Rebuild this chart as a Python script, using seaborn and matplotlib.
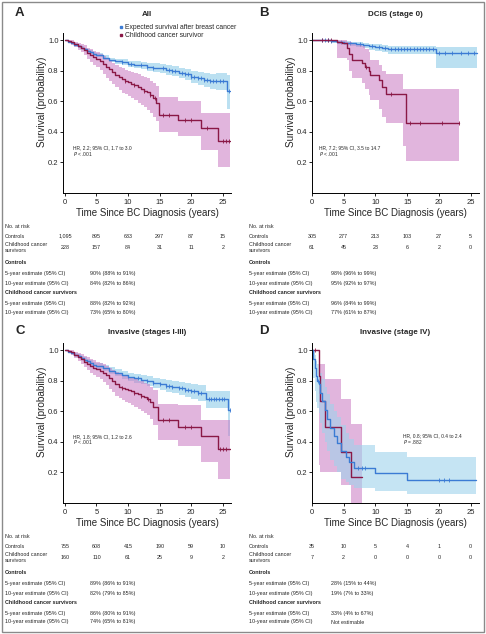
import numpy as np
import pandas as pd
import matplotlib
matplotlib.use("Agg")
import matplotlib.pyplot as plt
import matplotlib.transforms as mtransforms
from matplotlib.lines import Line2D
from matplotlib.patches import Rectangle
import seaborn as sns

sns.set_theme(style="white")
FONT = ["Liberation Sans", "DejaVu Sans"]
plt.rcParams["font.family"] = FONT

# ---------------- data ----------------
xticks = [0, 5, 10, 15, 20, 25]
yticks = [0.2, 0.4, 0.6, 0.8, 1.0]

# Panel A: All
A_ctl_t = [0, 0.5, 1, 1.5, 2, 2.5, 3, 3.5, 4, 4.5, 5, 6, 7, 8, 9, 10, 11, 12, 13, 14, 15, 16, 17, 18, 19, 20, 21, 22, 23, 24, 25.6]
A_ctl_s = [1.0, 0.99, 0.98, 0.97, 0.96, 0.95, 0.94, 0.93, 0.92, 0.91, 0.90, 0.885, 0.87, 0.86, 0.855, 0.845, 0.84, 0.835, 0.825, 0.82, 0.815, 0.805, 0.795, 0.785, 0.775, 0.76, 0.75, 0.74, 0.73, 0.73, 0.668]
A_ctl_lo = [1.0, 0.985, 0.972, 0.96, 0.95, 0.94, 0.93, 0.918, 0.908, 0.897, 0.886, 0.87, 0.855, 0.843, 0.836, 0.825, 0.818, 0.812, 0.80, 0.793, 0.786, 0.774, 0.762, 0.75, 0.738, 0.72, 0.705, 0.692, 0.68, 0.675, 0.55]
A_ctl_hi = [1.0, 0.995, 0.988, 0.98, 0.97, 0.96, 0.95, 0.942, 0.932, 0.923, 0.914, 0.90, 0.885, 0.877, 0.873, 0.865, 0.862, 0.858, 0.85, 0.847, 0.844, 0.836, 0.828, 0.82, 0.812, 0.80, 0.793, 0.787, 0.78, 0.782, 0.77]
A_ctl_end = 26.2
A_ctl_cens = [9, 10.5, 12, 13, 14, 15.5, 16.5, 17, 17.5, 18.5, 19, 19.5, 20, 20.5, 21, 21.5, 22, 22.5, 23, 23.5, 24, 24.5, 25, 26]

A_ccs_t = [0, 0.5, 1, 1.5, 2, 2.5, 3, 3.5, 4, 4.5, 5, 5.5, 6, 6.5, 7, 7.5, 8, 8.5, 9, 9.5, 10, 10.5, 11, 11.5, 12, 12.5, 13, 13.5, 14, 14.5, 14.9, 17.9, 21.6, 24.2]
A_ccs_s = [1.0, 0.995, 0.985, 0.975, 0.96, 0.95, 0.935, 0.915, 0.90, 0.89, 0.876, 0.86, 0.845, 0.826, 0.81, 0.79, 0.77, 0.76, 0.745, 0.735, 0.727, 0.715, 0.705, 0.69, 0.68, 0.67, 0.66, 0.64, 0.62, 0.59, 0.51, 0.48, 0.427, 0.34]
A_ccs_lo = [1.0, 0.985, 0.97, 0.955, 0.935, 0.92, 0.90, 0.875, 0.855, 0.84, 0.825, 0.805, 0.78, 0.755, 0.735, 0.71, 0.69, 0.675, 0.655, 0.645, 0.635, 0.62, 0.605, 0.59, 0.575, 0.56, 0.545, 0.52, 0.50, 0.47, 0.40, 0.37, 0.28, 0.17]
A_ccs_hi = [1.0, 1.0, 0.997, 0.99, 0.98, 0.975, 0.965, 0.95, 0.94, 0.93, 0.92, 0.91, 0.895, 0.88, 0.865, 0.85, 0.835, 0.825, 0.815, 0.805, 0.80, 0.79, 0.785, 0.775, 0.765, 0.76, 0.75, 0.735, 0.72, 0.70, 0.625, 0.60, 0.52, 0.52]
A_ccs_end = 26.2
A_ccs_cens = [9.5, 11, 12.5, 13.5, 14.2, 15.5, 16.5, 19, 20, 22.5, 25, 25.5, 26]

# Panel B: DCIS
B_ctl_t = [0, 1, 2, 3, 4, 5, 6, 7, 8, 9, 10, 11, 12, 19.5]
B_ctl_s = [1.0, 1.0, 0.997, 0.993, 0.988, 0.983, 0.978, 0.972, 0.966, 0.96, 0.955, 0.948, 0.94, 0.913]
B_ctl_lo = [1.0, 0.995, 0.99, 0.983, 0.977, 0.97, 0.963, 0.955, 0.946, 0.938, 0.93, 0.92, 0.91, 0.82]
B_ctl_hi = [1.0, 1.0, 1.0, 0.998, 0.995, 0.992, 0.988, 0.984, 0.98, 0.976, 0.972, 0.967, 0.962, 0.955]
B_ctl_end = 26.0
B_ctl_cens = [1.5, 2, 2.5, 3, 4.5, 6, 7.5, 9.5, 10.5, 11.5, 12.5, 13, 13.5, 14, 14.5, 15, 15.5, 16, 16.5, 17, 17.5, 18, 18.5, 19, 20, 21, 22, 23.5, 24.5, 25.5]

B_ccs_t = [0, 3.9, 4.7, 5.5, 5.8, 6.3, 7.9, 8.4, 8.9, 9.2, 10.5, 11.0, 11.6, 14.3, 14.8]
B_ccs_s = [1.0, 0.99, 0.98, 0.945, 0.91, 0.87, 0.85, 0.826, 0.80, 0.77, 0.74, 0.69, 0.645, 0.645, 0.46]
B_ccs_lo = [1.0, 0.88, 0.88, 0.87, 0.80, 0.75, 0.72, 0.68, 0.64, 0.61, 0.55, 0.50, 0.455, 0.31, 0.21]
B_ccs_hi = [1.0, 1.0, 1.0, 0.99, 0.985, 0.975, 0.96, 0.94, 0.92, 0.87, 0.84, 0.80, 0.78, 0.68, 0.68]
B_ccs_end = 23.2
B_ccs_cens = [1.5, 2.5, 3.0, 8.5, 12.5, 15.5, 17, 20.5, 23.2]

# Panel C: Invasive I-III
C_ctl_t = [0, 0.5, 1, 1.5, 2, 2.5, 3, 3.5, 4, 4.5, 5, 6, 7, 8, 9, 10, 11, 12, 13, 14, 15, 16, 17, 18, 19, 20, 21, 22.4, 25.8]
C_ctl_s = [1.0, 0.99, 0.98, 0.97, 0.96, 0.948, 0.937, 0.926, 0.915, 0.905, 0.895, 0.88, 0.865, 0.85, 0.838, 0.826, 0.815, 0.805, 0.795, 0.785, 0.775, 0.765, 0.757, 0.75, 0.74, 0.73, 0.72, 0.68, 0.607]
C_ctl_lo = [1.0, 0.984, 0.972, 0.96, 0.948, 0.935, 0.922, 0.91, 0.898, 0.887, 0.876, 0.86, 0.843, 0.827, 0.813, 0.80, 0.787, 0.775, 0.763, 0.752, 0.74, 0.728, 0.718, 0.708, 0.695, 0.682, 0.668, 0.62, 0.44]
C_ctl_hi = [1.0, 0.996, 0.988, 0.98, 0.972, 0.961, 0.952, 0.942, 0.932, 0.923, 0.914, 0.90, 0.887, 0.873, 0.863, 0.852, 0.843, 0.835, 0.827, 0.818, 0.81, 0.802, 0.796, 0.792, 0.785, 0.778, 0.772, 0.735, 0.735]
C_ctl_end = 26.2
C_ctl_cens = [10, 11.5, 13, 14, 15, 16, 16.5, 17, 18, 18.5, 19, 19.5, 20, 20.5, 21, 21.5, 22.8, 23.2, 23.6, 24, 24.4, 24.8, 25.2, 26.2]

C_ccs_t = [0, 0.5, 1, 1.5, 2, 2.5, 3, 3.5, 4, 4.5, 5, 5.5, 6, 6.5, 7, 7.5, 8, 8.5, 9, 9.5, 10, 10.5, 11, 11.5, 12, 12.5, 13, 13.5, 14, 14.7, 17.9, 21.6, 24.2]
C_ccs_s = [1.0, 0.995, 0.985, 0.97, 0.955, 0.94, 0.925, 0.91, 0.895, 0.885, 0.875, 0.865, 0.85, 0.835, 0.816, 0.80, 0.78, 0.76, 0.752, 0.746, 0.74, 0.73, 0.72, 0.71, 0.70, 0.69, 0.68, 0.66, 0.625, 0.54, 0.50, 0.44, 0.35]
C_ccs_lo = [1.0, 0.985, 0.97, 0.95, 0.93, 0.91, 0.89, 0.87, 0.85, 0.84, 0.825, 0.81, 0.79, 0.77, 0.745, 0.725, 0.70, 0.685, 0.672, 0.663, 0.655, 0.64, 0.63, 0.615, 0.60, 0.59, 0.575, 0.55, 0.51, 0.41, 0.37, 0.27, 0.16]
C_ccs_hi = [1.0, 1.0, 0.997, 0.99, 0.982, 0.972, 0.962, 0.952, 0.94, 0.932, 0.925, 0.918, 0.91, 0.898, 0.885, 0.872, 0.857, 0.845, 0.838, 0.832, 0.825, 0.818, 0.81, 0.80, 0.795, 0.785, 0.775, 0.76, 0.74, 0.65, 0.64, 0.545, 0.545]
C_ccs_end = 26.2
C_ccs_cens = [9, 11, 12, 13.2, 15.5, 16.5, 19, 20, 24.5, 25, 25.5]

# Panel D: Invasive IV
D_ctl_t = [0, 0.2, 0.4, 0.6, 0.8, 1.05, 1.3, 1.6, 2.0, 2.4, 2.9, 3.4, 3.9, 4.5, 5.3, 5.9, 6.6, 10, 15]
D_ctl_s = [1.0, 0.94, 0.885, 0.83, 0.80, 0.776, 0.72, 0.667, 0.61, 0.55, 0.49, 0.44, 0.395, 0.34, 0.30, 0.265, 0.23, 0.196, 0.152]
D_ctl_lo = [1.0, 0.82, 0.73, 0.66, 0.62, 0.59, 0.52, 0.46, 0.40, 0.34, 0.28, 0.24, 0.20, 0.16, 0.14, 0.12, 0.10, 0.08, 0.06]
D_ctl_hi = [1.0, 1.0, 0.97, 0.93, 0.91, 0.89, 0.85, 0.81, 0.76, 0.71, 0.65, 0.60, 0.56, 0.51, 0.46, 0.42, 0.38, 0.335, 0.30]
D_ctl_end = 25.8
D_ctl_cens = [1.0, 7.2, 7.8, 8.4, 20, 20.8, 21.6]

D_ccs_t = [0, 1.15, 1.3, 2.1, 4.6, 6.2]
D_ccs_s = [1.0, 0.833, 0.667, 0.5, 0.333, 0.167]
D_ccs_lo = [1.0, 0.25, 0.2, 0.2, 0.12, 0.0]
D_ccs_hi = [1.0, 0.91, 0.91, 0.81, 0.68, 0.515]
D_ccs_end = 7.9
D_ccs_cens = [0.5]

# risk tables
A_risk_ctl = ["1,095", "895", "633", "297", "87", "15"]
A_risk_ccs = ["228", "157", "84", "31", "11", "2"]
B_risk_ctl = ["305", "277", "213", "103", "27", "5"]
B_risk_ccs = ["61", "45", "23", "6", "2", "0"]
C_risk_ctl = ["755", "608", "415", "190", "59", "10"]
C_risk_ccs = ["160", "110", "61", "25", "9", "2"]
D_risk_ctl = ["35", "10", "5", "4", "1", "0"]
D_risk_ccs = ["7", "2", "0", "0", "0", "0"]

A_est = ["90% (88% to 91%)", "84% (82% to 86%)", "88% (82% to 92%)", "73% (65% to 80%)"]
B_est = ["98% (96% to 99%)", "95% (92% to 97%)", "96% (84% to 99%)", "77% (61% to 87%)"]
C_est = ["89% (86% to 91%)", "82% (79% to 85%)", "86% (80% to 91%)", "74% (65% to 81%)"]
D_est = ["28% (15% to 44%)", "19% (7% to 33%)", "33% (4% to 67%)", "Not estimable"]

titles = ["All", "DCIS (stage 0)", "Invasive (stages I-III)", "Invasive (stage IV)"]
letters = ["A", "B", "C", "D"]
hr_l1 = ["HR, 2.2; 95% CI, 1.7 to 3.0", "HR, 7.2; 95% CI, 3.5 to 14.7",
         "HR, 1.8; 95% CI, 1.2 to 2.6", "HR, 0.8; 95% CI, 0.4 to 2.4"]
hr_l2 = ["< .001", "< .001", "< .001", "= .882"]
legend_labels = ["Expected survival after breast cancer", "Childhood cancer survivor"]

# ---------------- style ----------------
BLUE = "#3b7bd4"
BLUE_F = "#9fd3ec"
MAG = "#8a1846"
MAG_F = "#c978c2"

W, H = 486, 634
fig = plt.figure(figsize=(W / 100, H / 100), dpi=100)


def fx(x):
    return x / W


def fy(y):
    return 1 - y / H


def km(ax, t, s, lo, hi, end, cens, color, fcolor, falpha):
    tt = np.array(list(t) + [end])
    ss = np.array(list(s) + [s[-1]])
    ll = np.array(list(lo) + [lo[-1]])
    uu = np.array(list(hi) + [hi[-1]])
    ax.fill_between(tt, ll, uu, step="post", color=fcolor, alpha=falpha, lw=0)
    df = pd.DataFrame({"t": tt, "s": ss})
    sns.lineplot(data=df, x="t", y="s", ax=ax, drawstyle="steps-post",
                 estimator=None, color=color, lw=1.0)
    c = np.array(cens, dtype=float)
    idx = np.searchsorted(np.array(t), c, side="right") - 1
    cy = np.array(s)[idx]
    sns.scatterplot(x=c, y=cy, ax=ax, marker="|", s=9, color=color, linewidth=0.6)


# axes positions in px: left, top, right, bottom
boxes = [(63, 33, 231, 193), (312, 33, 479, 193), (63, 343, 231, 503), (312, 343, 479, 503)]
xl = [(-0.3, 26.3), (0, 26.3), (-0.3, 26.3), (0, 26.3)]
data = [
    ((A_ctl_t, A_ctl_s, A_ctl_lo, A_ctl_hi, A_ctl_end, A_ctl_cens), (A_ccs_t, A_ccs_s, A_ccs_lo, A_ccs_hi, A_ccs_end, A_ccs_cens)),
    ((B_ctl_t, B_ctl_s, B_ctl_lo, B_ctl_hi, B_ctl_end, B_ctl_cens), (B_ccs_t, B_ccs_s, B_ccs_lo, B_ccs_hi, B_ccs_end, B_ccs_cens)),
    ((C_ctl_t, C_ctl_s, C_ctl_lo, C_ctl_hi, C_ctl_end, C_ctl_cens), (C_ccs_t, C_ccs_s, C_ccs_lo, C_ccs_hi, C_ccs_end, C_ccs_cens)),
    ((D_ctl_t, D_ctl_s, D_ctl_lo, D_ctl_hi, D_ctl_end, D_ctl_cens), (D_ccs_t, D_ccs_s, D_ccs_lo, D_ccs_hi, D_ccs_end, D_ccs_cens)),
]
risks = [(A_risk_ctl, A_risk_ccs), (B_risk_ctl, B_risk_ccs), (C_risk_ctl, C_risk_ccs), (D_risk_ctl, D_risk_ccs)]
ests = [A_est, B_est, C_est, D_est]
hr_pos = [(73, 148), (319, 148), (73, 437), (403, 436)]
label_x = [5, 249, 5, 249]
est_x = [90, 331, 90, 331]
yoff = [0, 0, 310, 310]
title_y = [14, 14, 332, 332]

for i in range(4):
    L, T, R, B = boxes[i]
    ax = fig.add_axes([fx(L), fy(B), fx(R) - fx(L), (B - T) / H])
    ctl, ccs = data[i]
    if i == 3:
        km(ax, *ccs, MAG, MAG_F, 0.55)
        km(ax, *ctl, BLUE, BLUE_F, 0.6)
    else:
        km(ax, *ctl, BLUE, BLUE_F, 0.7)
        km(ax, *ccs, MAG, MAG_F, 0.55)
    ax.set_xlim(*xl[i])
    ax.set_ylim(0, 1.046)
    ax.set_xticks(xticks)
    ax.set_yticks(yticks)
    ax.set_yticklabels([f"{v:.1f}" for v in yticks])
    for sp in ["top", "right"]:
        ax.spines[sp].set_visible(False)
    for sp in ["left", "bottom"]:
        ax.spines[sp].set_color("black")
        ax.spines[sp].set_linewidth(0.7)
    ax.tick_params(axis="both", direction="out", length=2.0, width=0.6,
                   labelsize=5.5, color="black", pad=1.2, bottom=True, left=True)
    ax.tick_params(axis="x", pad=2.5)
    ax.set_xlabel("Time Since BC Diagnosis (years)", fontsize=7.0, labelpad=1.5)
    ax.set_ylabel("Survival (probability)", fontsize=7.2)
    ax.yaxis.set_label_coords(-0.095, 0.57)
    ax.grid(False)
    ax.set_facecolor("none")

    yo = yoff[i]
    # letter and title
    fig.text(fx(label_x[i] + 10), fy(title_y[i] - 1), letters[i], fontsize=9.5, fontweight="bold",
             ha="left", va="center")
    fig.text(fx((L + R) / 2), fy(title_y[i]), titles[i], fontsize=5.8, fontweight="bold",
             ha="center", va="center")
    # HR text
    hx, hy = hr_pos[i]
    fig.text(fx(hx), fy(hy), hr_l1[i], fontsize=3.5, ha="left", va="center")
    fig.text(fx(hx), fy(hy + 5.5), r"$\it{P}$ " + hr_l2[i], fontsize=3.5, ha="left", va="center")

    # risk table
    trans = mtransforms.blended_transform_factory(ax.transData, fig.transFigure)
    lx = fx(label_x[i])
    fs = 3.9
    fig.text(lx, fy(227 + yo), "No. at risk", fontsize=fs, va="center")
    fig.text(lx, fy(236 + yo), "Controls", fontsize=fs, va="center")
    fig.text(lx, fy(247.5 + yo), "Childhood cancer\nsurvivors", fontsize=fs, va="center",
             linespacing=1.15)
    rc, rs = risks[i]
    for k, xt in enumerate(xticks):
        fig.text(xt, fy(236 + yo), rc[k], fontsize=fs, ha="center", va="center", transform=trans)
        fig.text(xt, fy(247.5 + yo), rs[k], fontsize=fs, ha="center", va="center", transform=trans)
    fig.text(lx, fy(263 + yo), "Controls", fontsize=fs, fontweight="bold", va="center")
    fig.text(lx, fy(273 + yo), "5-year estimate (95% CI)", fontsize=fs, va="center")
    fig.text(lx, fy(283 + yo), "10-year estimate (95% CI)", fontsize=fs, va="center")
    fig.text(lx, fy(293 + yo), "Childhood cancer survivors", fontsize=fs, fontweight="bold", va="center")
    fig.text(lx, fy(303 + yo), "5-year estimate (95% CI)", fontsize=fs, va="center")
    fig.text(lx, fy(312 + yo), "10-year estimate (95% CI)", fontsize=fs, va="center")
    e = ests[i]
    ex = fx(est_x[i])
    for k, yy in enumerate([273, 283, 303, 312]):
        fig.text(ex, fy(yy + yo), e[k], fontsize=fs, va="center")

# legend for panel A
handles = [Line2D([], [], color=BLUE, marker="s", ms=1.8, lw=0),
           Line2D([], [], color=MAG, marker="s", ms=1.8, lw=0)]
fig.legend(handles, legend_labels, loc="upper left", bbox_to_anchor=(fx(119), fy(24)),
           frameon=False, fontsize=4.9, handlelength=0.5, handletextpad=0.4,
           labelspacing=0.15, borderaxespad=0, borderpad=0)

# frame around the figure
fig.patches.append(Rectangle((fx(2), fy(632)), fx(482), (630) / H, transform=fig.transFigure,
                             fill=False, edgecolor="#8a8a8a", lw=1.0))

fig.savefig("out.png", dpi=100)
